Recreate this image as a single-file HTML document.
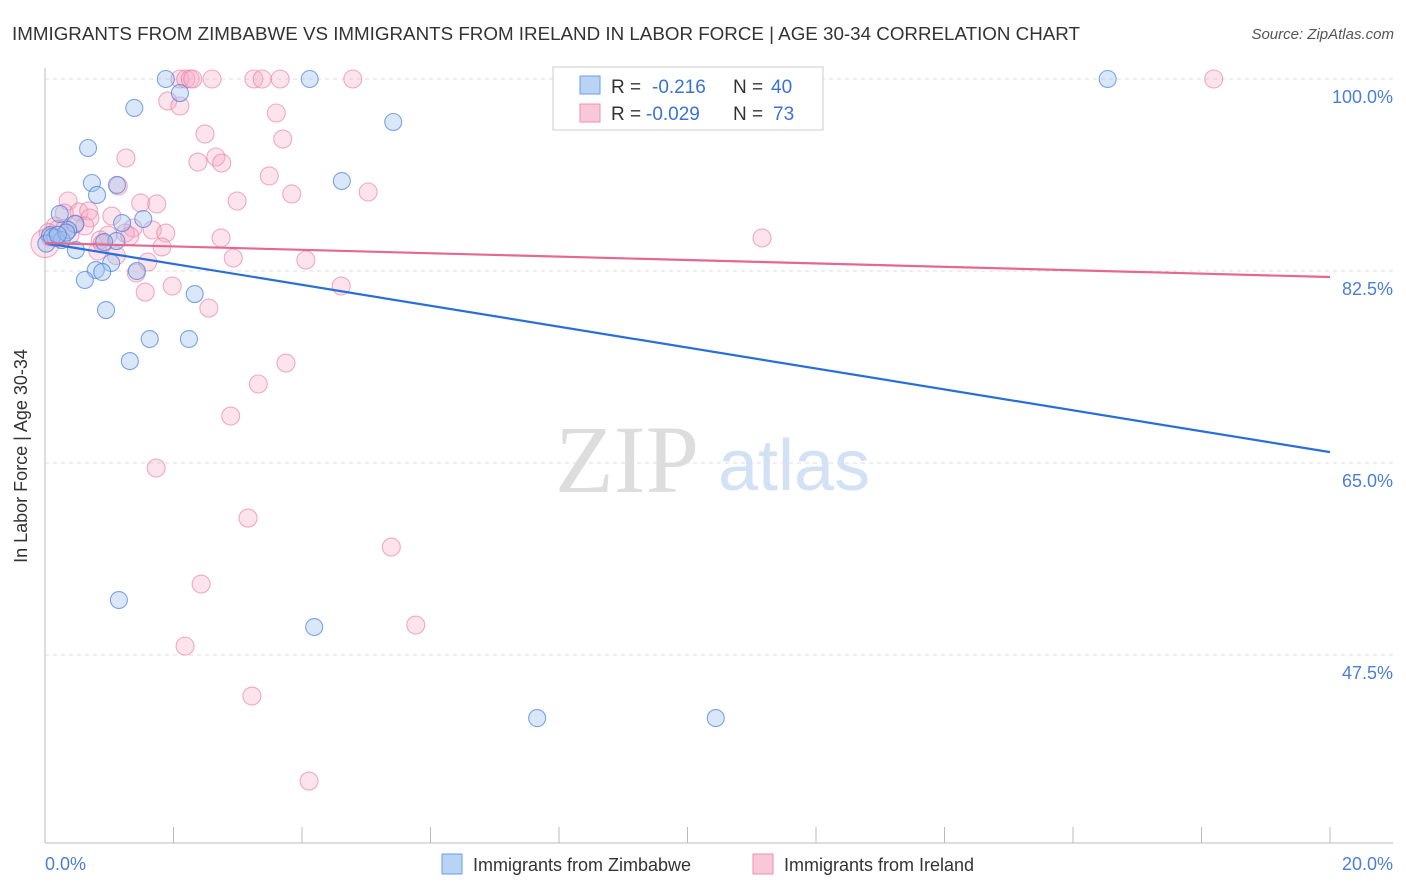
<!DOCTYPE html>
<html><head><meta charset="utf-8"><style>
body{margin:0;background:#fff;font-family:"Liberation Sans",sans-serif}
svg{display:block}
</style></head><body>
<svg width="1406" height="892" xmlns="http://www.w3.org/2000/svg">
<text x="12" y="40" font-size="18" fill="#333" textLength="1068" lengthAdjust="spacingAndGlyphs">IMMIGRANTS FROM ZIMBABWE VS IMMIGRANTS FROM IRELAND IN LABOR FORCE | AGE 30-34 CORRELATION CHART</text>
<text x="1394" y="39" font-size="15" fill="#555" font-style="italic" text-anchor="end">Source: ZipAtlas.com</text>
<g id="grid"></g>
<text x="555" y="492" font-size="96" font-family="Liberation Serif,serif" fill="#ddd">ZIP</text>
<text x="718" y="490" font-size="72" fill="#d3e1f5">atlas</text>
<line x1="45" y1="68" x2="45" y2="843" stroke="#bbb"/>
<line x1="45" y1="843" x2="1393" y2="843" stroke="#bbb"/>
<g id="marks"></g>
<text x="27" y="456" font-size="18" fill="#333" text-anchor="middle" transform="rotate(-90 27 456)">In Labor Force | Age 30-34</text>
<text x="45" y="870" font-size="18" fill="#4a7fd6">0.0%</text>
<text x="1393" y="870" font-size="18" fill="#4a7fd6" text-anchor="end">20.0%</text>
<g>
<rect x="553" y="67" width="270" height="63" fill="#fff" stroke="#ccc"/>
<rect x="580" y="76" width="20" height="18" fill="#b9d3f5" stroke="#6a9ee6"/>
<rect x="580" y="104" width="20" height="18" fill="#f9c8d8" stroke="#ec8fae"/>
<text x="611" y="93" font-size="19" fill="#333">R =</text>
<text x="652" y="93" font-size="19" fill="#3a72d4">-0.216</text>
<text x="733" y="93" font-size="19" fill="#333">N =</text>
<text x="771" y="93" font-size="19" fill="#3a72d4">40</text>
<text x="611" y="120" font-size="19" fill="#333">R =</text>
<text x="646" y="120" font-size="19" fill="#3a72d4">-0.029</text>
<text x="733" y="120" font-size="19" fill="#333">N =</text>
<text x="773" y="120" font-size="19" fill="#3a72d4">73</text>
</g>
<g><rect x="442" y="854" width="20" height="20" fill="#b9d3f5" stroke="#6a9ee6"/><text x="473" y="871" font-size="18" fill="#333">Immigrants from Zimbabwe</text></g>
<g><rect x="753" y="854" width="20" height="20" fill="#f9c8d8" stroke="#ec8fae"/><text x="784" y="871" font-size="18" fill="#333">Immigrants from Ireland</text></g>
</svg>
<script>
const yTicks=[100,82.5,65,47.5];
const yTickLabels=["100.0%","82.5%","65.0%","47.5%"];
const blueX=[1.88,4.12,16.54,2.10,1.39,5.42,0.67,0.73,1.12,4.62,0.81,0.23,1.53,1.20,0.47,0.36,0.08,0.16,0.26,1.11,0.92,0.48,1.03,0.79,0.89,1.43,0.62,2.33,0.95,1.63,2.24,1.32,1.15,4.19,7.66,10.44,0.02,0.11,0.33,0.2];
const blueY=[100,100,100,98.72,97.36,96.08,93.71,90.52,90.34,90.70,89.43,87.70,87.24,86.87,86.78,86.23,85.78,85.51,85.32,85.23,85.14,84.41,83.23,82.59,82.41,82.50,81.68,80.40,78.94,76.30,76.30,74.29,52.51,50.05,41.75,41.75,85.0,85.6,86.0,85.8];
const pinkX=[2.10,2.19,2.26,2.30,2.60,3.25,3.38,3.66,4.79,18.19,1.91,2.10,3.60,2.49,3.70,1.26,2.38,2.66,2.75,3.49,1.14,3.84,5.03,2.99,0.36,1.49,1.74,0.30,0.53,0.68,1.04,0.70,0.16,0.47,1.37,1.67,1.88,1.25,0.98,1.32,2.74,0.86,11.16,1.82,0.82,2.93,1.60,4.06,1.42,1.98,1.56,4.61,2.55,3.75,3.32,2.89,1.73,3.16,5.39,2.43,5.77,2.18,3.22,4.11,0.0,0.08,0.2,0.05,0.62,0.39,0.31,0.89,1.11];
const pinkY=[100,100,100,100,100,100,100,100,100,100,97.99,97.54,96.90,94.99,94.53,92.80,92.43,92.89,92.34,91.16,90.25,89.52,89.70,88.88,88.88,88.70,88.61,87.78,87.88,87.97,87.51,87.33,86.60,86.78,86.42,86.24,85.96,85.96,85.78,85.69,85.51,85.32,85.51,84.69,84.32,83.68,83.32,83.50,82.32,81.13,80.58,81.13,79.12,74.11,72.20,69.28,64.54,59.98,57.34,53.97,50.23,48.31,43.76,36.01,85.0,85.6,86.3,86.0,86.6,85.8,86.4,85.0,83.9];
const blueTrend=[85.05,65.99];
const pinkTrend=[85.05,81.95];
const xDomain=[0,20];
const NS="http://www.w3.org/2000/svg";
function sx(v){return 45+(v-xDomain[0])/(xDomain[1]-xDomain[0])*1285;}
function sy(v){return 79+(100-v)*192/17.5;}
const grid=document.getElementById('grid'),marks=document.getElementById('marks');
function mk(tag,attrs,parent){const e=document.createElementNS(NS,tag);for(const k in attrs)e.setAttribute(k,attrs[k]);parent.appendChild(e);return e;}
yTicks.forEach((t,i)=>{
 const l=mk('line',{x1:45,x2:1393,y1:sy(t),y2:sy(t),stroke:'#ddd','stroke-dasharray':'4,4'},grid);
 
 
 const tx=mk('text',{x:1393,y:sy(t)+24,'font-size':18,fill:'#4a7fd6','text-anchor':'end'},grid);
 tx.textContent=yTickLabels[i];
 
 
});
for(let i=1;i<=10;i++){
 const x=sx(i*2);
 const l=mk('line',{x1:x,x2:x,y1:827,y2:843,stroke:'#bbb'},grid);
 
 
}
pinkX.forEach((v,i)=>{
 const c=mk('circle',{cx:sx(v),cy:sy(pinkY[i]),r:(i==64?14:9),fill:'rgba(246,170,196,0.33)',stroke:'rgba(232,120,160,0.6)','stroke-width':1.1},marks);
 
 
});
blueX.forEach((v,i)=>{
 const c=mk('circle',{cx:sx(v),cy:sy(blueY[i]),r:8.5,fill:'rgba(160,196,240,0.4)',stroke:'rgba(70,130,220,0.7)','stroke-width':1.1},marks);
 
 
});
const bl=mk('line',{x1:sx(0),y1:sy(blueTrend[0]),x2:sx(20),y2:sy(blueTrend[1]),stroke:'#2a6fd8','stroke-width':2.2},marks);


const pl=mk('line',{x1:sx(0),y1:sy(pinkTrend[0]),x2:sx(20),y2:sy(pinkTrend[1]),stroke:'#e46892','stroke-width':2.2},marks);


</script>
</body></html>
